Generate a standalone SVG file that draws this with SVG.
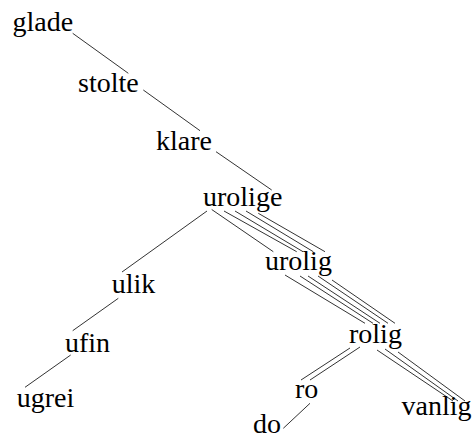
<svg xmlns="http://www.w3.org/2000/svg" width="474" height="441" viewBox="0 0 474 441">
<rect width="474" height="441" fill="#fff"/>
<g id="edges" stroke="#333" stroke-width="1">
<line x1="72.7" y1="33.3" x2="128.3" y2="73.3"/>
<line x1="143.3" y1="90" x2="200" y2="130.7"/>
<line x1="216" y1="151.7" x2="271.7" y2="190"/>
<line x1="207" y1="211" x2="122" y2="272"/>
<line x1="118.3" y1="298.3" x2="72.7" y2="330.7"/>
<line x1="70.7" y1="355" x2="25" y2="387.3"/>
<line x1="211.7" y1="209.5" x2="273.3" y2="251.7"/>
<line x1="224" y1="211" x2="296.7" y2="251.7"/>
<line x1="235" y1="211" x2="303" y2="251.7"/>
<line x1="246" y1="211" x2="313.3" y2="251.7"/>
<line x1="258.3" y1="213.3" x2="325" y2="251.7"/>
<line x1="285" y1="275" x2="365" y2="323.3"/>
<line x1="300" y1="276" x2="373" y2="323.3"/>
<line x1="308" y1="276" x2="380" y2="323.3"/>
<line x1="318" y1="276" x2="388" y2="323.3"/>
<line x1="332" y1="280" x2="395" y2="323.3"/>
<line x1="350" y1="348" x2="301" y2="380"/>
<line x1="360" y1="347" x2="310" y2="380"/>
<line x1="377" y1="350" x2="453" y2="401"/>
<line x1="385" y1="349" x2="458" y2="401"/>
<line x1="398" y1="352" x2="465" y2="401"/>
<line x1="310" y1="403.3" x2="283.3" y2="428.3"/>
</g>
<g id="glade"><text font-family="Liberation Serif" font-size="28" x="12.5" y="31">glade</text></g>
<g id="stolte"><text font-family="Liberation Serif" font-size="28" x="78" y="92">stolte</text></g>
<g id="klare"><text font-family="Liberation Serif" font-size="28" x="156" y="149.5">klare</text></g>
<g id="urolige"><text font-family="Liberation Serif" font-size="28" x="203" y="206">urolige</text></g>
<g id="urolig"><text font-family="Liberation Serif" font-size="28" x="265" y="270">urolig</text></g>
<g id="rolig"><text font-family="Liberation Serif" font-size="28" x="349" y="342.7">rolig</text></g>
<g id="ro"><text font-family="Liberation Serif" font-size="28" x="295" y="398.3">ro</text></g>
<g id="vanlig"><text font-family="Liberation Serif" font-size="28" x="401.5" y="415">vanlig</text></g>
<g id="do"><text font-family="Liberation Serif" font-size="28" x="253" y="433">do</text></g>
<g id="ulik"><text font-family="Liberation Serif" font-size="28" x="111.7" y="293">ulik</text></g>
<g id="ufin"><text font-family="Liberation Serif" font-size="28" x="65" y="351.7">ufin</text></g>
<g id="ugrei"><text font-family="Liberation Serif" font-size="28" x="16.7" y="406.7">ugrei</text></g>
</svg>
